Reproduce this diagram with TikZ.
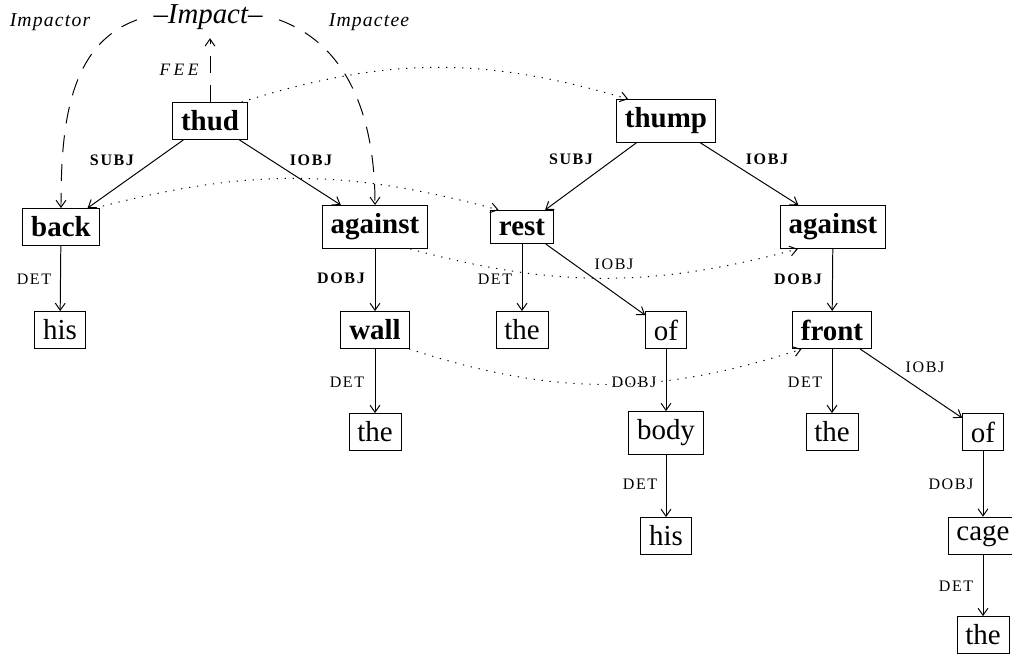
\documentclass[tikz,border=0pt]{standalone}
\usepackage{fontspec}
\setmainfont{Liberation Serif}
\newfontfamily\tagfont[LetterSpace=10]{Liberation Serif}
\newfontfamily\rolefont[LetterSpace=6]{Liberation Serif}
\newfontfamily\feefont[LetterSpace=20]{Liberation Serif}
\usetikzlibrary{arrows.meta}

\begin{document}
\begin{tikzpicture}[x=0.025cm, y=0.025cm]
  \tikzset{WordStyle/.style = {
  shape = rectangle,
  draw,
  line width = 0.7pt,
  inner xsep = 5.9pt,
  inner ysep = 5.85pt,
  font = \fontsize{20.6}{24}\selectfont},
  HeadStyle/.style = {
  WordStyle,
  font = \fontsize{20.6}{24}\selectfont\bfseries},
  TagStyle/.style = {
  inner sep = 0pt,
  font = \tagfont\fontsize{11.4}{13}\selectfont},
  TagBold/.style = {
  TagStyle,
  font = \tagfont\fontsize{11.4}{13}\selectfont\bfseries},
  DepStyle/.style = {
  -{Straight Barb[length=5pt, width=7pt]},
  line width = 0.7pt},
  LinkStyle/.style = {
  DepStyle,
  dash pattern = on 0.9pt off 4.8pt},
  RoleStyle/.style = {
  DepStyle,
  dash pattern = on 12pt off 8.5pt}}
  \useasboundingbox (0,0) rectangle (1012,-655);
  \node [font = \itshape\fontsize{20.5}{23}\selectfont, inner sep = 6pt] (impact) at (208,-17) {--Impact--};
  \node [font = \rolefont\itshape\fontsize{14}{16}\selectfont, inner sep = 0pt] (impactor) at (50,-22) {Impactor};
  \node [font = \rolefont\itshape\fontsize{14}{16}\selectfont, inner sep = 0pt] (impactee) at (369,-22) {Impactee};
  \node [font = \feefont\itshape\fontsize{12.4}{14}\selectfont, inner sep = 0pt] (fee) at (179,-70) {FEE};
  \node [HeadStyle] (thud) at (210,-121) {thud};
  \node [HeadStyle] (thump) at (666,-121) {thump};
  \node [HeadStyle] (back) at (61,-227) {back};
  \node [HeadStyle] (againstL) at (375,-227) {against};
  \node [HeadStyle] (rest) at (522,-227) {rest};
  \node [HeadStyle] (againstR) at (833,-227) {against};
  \node [WordStyle] (hisA) at (60,-330) {his};
  \node [HeadStyle] (wall) at (375,-330) {wall};
  \node [WordStyle] (theB) at (522,-330) {the};
  \node [WordStyle] (ofA) at (666,-330) {of};
  \node [HeadStyle] (front) at (832,-330) {front};
  \node [WordStyle] (theA) at (375,-432) {the};
  \node [WordStyle] (body) at (666,-433) {body};
  \node [WordStyle] (theC) at (832,-432) {the};
  \node [WordStyle] (ofB) at (983,-432) {of};
  \node [WordStyle] (hisB) at (666,-536) {his};
  \node [WordStyle] (cage) at (983,-536) {cage};
  \node [WordStyle] (theD) at (983,-635) {the};
  \draw [RoleStyle] (thud.north) -- (thud.north |- impact.south);
  \draw [RoleStyle, shorten <= 6pt] (impact.west) to [out=200, in=90] (back.north);
  \draw [RoleStyle, shorten <= 6pt] (impact.east) to [out=-20, in=90] (againstL.north);
  \draw [DepStyle] (thud) -- (back);
  \draw [DepStyle] (thud) -- (againstL);
  \draw [DepStyle] (thump) -- (rest);
  \draw [DepStyle] (thump) -- (againstR);
  \draw [DepStyle] (back) -- (hisA);
  \draw [DepStyle] (againstL) -- (wall);
  \draw [DepStyle] (wall) -- (theA);
  \draw [DepStyle] (rest) -- (theB);
  \draw [DepStyle] (rest) -- (ofA);
  \draw [DepStyle] (ofA) -- (body);
  \draw [DepStyle] (body) -- (hisB);
  \draw [DepStyle] (againstR) -- (front);
  \draw [DepStyle] (front) -- (theC);
  \draw [DepStyle] (front) -- (ofB);
  \draw [DepStyle] (ofB) -- (cage);
  \draw [DepStyle] (cage) -- (theD);
  \draw [LinkStyle] (thud.31) to [bend left=17] (thump.150);
  \draw [LinkStyle] (back.29) to [bend left=15] (rest.144);
  \draw [LinkStyle] (againstL.-32) to [bend right=15] (againstR.-148);
  \draw [LinkStyle] (wall.-29) to [bend right=18] (front.-148);
  \node [TagBold] (subjL) at (112,-160) {SUBJ};
  \node [TagBold] (iobjL) at (311,-160) {IOBJ};
  \node [TagBold] (subjR) at (571,-159) {SUBJ};
  \node [TagBold] (iobjR) at (767,-159) {IOBJ};
  \node [TagStyle] (detA) at (34,-279) {DET};
  \node [TagBold] (dobjL) at (341,-278) {DOBJ};
  \node [TagStyle] (detB) at (347,-382) {DET};
  \node [TagStyle] (detC) at (495,-279) {DET};
  \node [TagStyle] (iobjA) at (614,-264) {IOBJ};
  \node [TagBold] (dobjR) at (798,-279) {DOBJ};
  \node [TagStyle] (dobjA) at (634,-382) {DOBJ};
  \node [TagStyle] (detD) at (640,-484) {DET};
  \node [TagStyle] (detE) at (805,-382) {DET};
  \node [TagStyle] (iobjB) at (925,-367) {IOBJ};
  \node [TagStyle] (dobjB) at (951,-484) {DOBJ};
  \node [TagStyle] (detF) at (956,-586) {DET};
\end{tikzpicture}
\end{document}
